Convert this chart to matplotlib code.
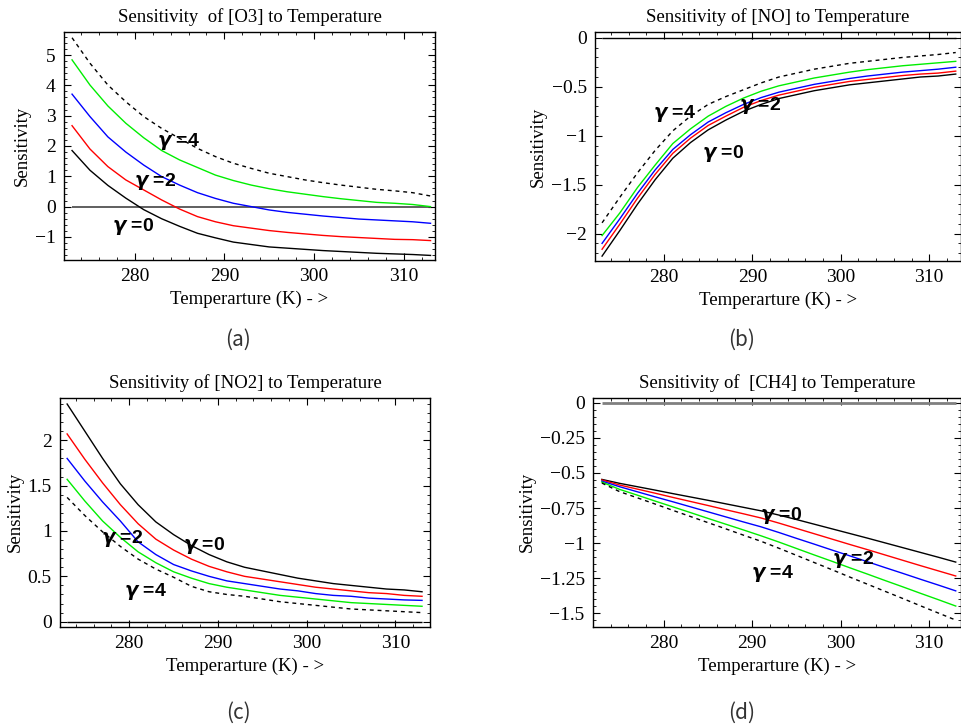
import matplotlib.pyplot as plt
from matplotlib.ticker import MultipleLocator, AutoMinorLocator, FuncFormatter

# temperature grid (K)
temps = list(range(273, 314, 2))

# (a) sensitivity of [O3]
o3_g0 = [1.85, 1.2, 0.7, 0.28, -0.1, -0.4, -0.65, -0.88, -1.03, -1.17, -1.25,
         -1.33, -1.37, -1.41, -1.45, -1.48, -1.51, -1.54, -1.56, -1.58, -1.61]
o3_g1 = [2.67, 1.9, 1.32, 0.88, 0.55, 0.22, -0.08, -0.33, -0.5, -0.63, -0.71,
         -0.79, -0.85, -0.9, -0.95, -0.99, -1.02, -1.05, -1.08, -1.09, -1.12]
o3_g2 = [3.71, 2.97, 2.3, 1.8, 1.37, 0.99, 0.71, 0.46, 0.27, 0.11, 0.0,
         -0.11, -0.19, -0.25, -0.31, -0.36, -0.41, -0.44, -0.47, -0.5, -0.55]
o3_g3 = [4.84, 4.01, 3.32, 2.75, 2.27, 1.85, 1.54, 1.29, 1.04, 0.86, 0.71,
         0.59, 0.49, 0.41, 0.33, 0.26, 0.2, 0.14, 0.11, 0.07, 0.0]
o3_g4 = [5.57, 4.73, 4.01, 3.46, 2.97, 2.58, 2.25, 1.92, 1.65, 1.43, 1.26,
         1.1, 0.99, 0.88, 0.79, 0.71, 0.64, 0.57, 0.52, 0.46, 0.35]

# (b) sensitivity of [NO]
no_g0 = [-2.23, -1.97, -1.7, -1.45, -1.23, -1.07, -0.94, -0.84, -0.75, -0.68, -0.62,
         -0.58, -0.54, -0.51, -0.48, -0.46, -0.44, -0.42, -0.4, -0.39, -0.37]
no_g1 = [-2.16, -1.905, -1.64, -1.395, -1.18, -1.025, -0.895, -0.8, -0.71, -0.64, -0.585,
         -0.545, -0.505, -0.475, -0.445, -0.425, -0.405, -0.385, -0.37, -0.36, -0.34]
no_g2 = [-2.1, -1.85, -1.59, -1.35, -1.14, -0.99, -0.86, -0.765, -0.68, -0.61, -0.555,
         -0.515, -0.475, -0.445, -0.415, -0.39, -0.37, -0.35, -0.335, -0.32, -0.3]
no_g3 = [-2.02, -1.79, -1.53, -1.3, -1.08, -0.93, -0.8, -0.7, -0.615, -0.545, -0.49,
         -0.45, -0.41, -0.38, -0.35, -0.325, -0.305, -0.285, -0.27, -0.255, -0.24]
no_g4 = [-1.89, -1.63, -1.38, -1.15, -0.95, -0.8, -0.68, -0.6, -0.53, -0.46, -0.4,
         -0.36, -0.32, -0.29, -0.26, -0.24, -0.22, -0.2, -0.185, -0.17, -0.15]

# (c) sensitivity of [NO2]
no2_g0 = [2.4, 2.1, 1.8, 1.52, 1.29, 1.1, 0.96, 0.84, 0.74, 0.66, 0.6,
          0.56, 0.52, 0.48, 0.45, 0.42, 0.4, 0.38, 0.36, 0.35, 0.33]
no2_g1 = [2.07, 1.79, 1.53, 1.29, 1.08, 0.91, 0.79, 0.69, 0.61, 0.55, 0.5,
          0.47, 0.44, 0.41, 0.38, 0.36, 0.34, 0.32, 0.31, 0.29, 0.28]
no2_g2 = [1.8, 1.55, 1.32, 1.11, 0.88, 0.74, 0.63, 0.56, 0.5, 0.45, 0.42,
          0.39, 0.36, 0.34, 0.31, 0.29, 0.28, 0.26, 0.25, 0.24, 0.235]
no2_g3 = [1.57, 1.33, 1.11, 0.93, 0.77, 0.65, 0.55, 0.48, 0.42, 0.38, 0.35,
          0.32, 0.29, 0.27, 0.25, 0.23, 0.21, 0.2, 0.19, 0.18, 0.17]
no2_g4 = [1.37, 1.17, 0.99, 0.83, 0.69, 0.58, 0.49, 0.39, 0.33, 0.3, 0.28,
          0.25, 0.22, 0.2, 0.18, 0.16, 0.14, 0.13, 0.12, 0.11, 0.1]

# (d) sensitivity of [CH4]
ch4_g0 = [-0.546, -0.574, -0.598, -0.622, -0.647, -0.671, -0.695, -0.72, -0.745, -0.77, -0.8,
          -0.832, -0.865, -0.898, -0.931, -0.964, -0.998, -1.032, -1.066, -1.1, -1.135]
ch4_g1 = [-0.55, -0.586, -0.615, -0.644, -0.674, -0.703, -0.732, -0.762, -0.791, -0.821, -0.857,
          -0.895, -0.933, -0.971, -1.009, -1.046, -1.084, -1.122, -1.16, -1.197, -1.234]
ch4_g2 = [-0.558, -0.598, -0.634, -0.67, -0.705, -0.741, -0.777, -0.813, -0.849, -0.884, -0.924,
          -0.966, -1.007, -1.049, -1.09, -1.132, -1.174, -1.215, -1.257, -1.298, -1.34]
ch4_g3 = [-0.565, -0.617, -0.658, -0.7, -0.741, -0.782, -0.824, -0.865, -0.906, -0.948, -0.992,
          -1.038, -1.084, -1.129, -1.175, -1.22, -1.266, -1.311, -1.357, -1.402, -1.448]
ch4_g4 = [-0.572, -0.633, -0.677, -0.721, -0.766, -0.81, -0.854, -0.898, -0.943, -0.987, -1.036,
          -1.087, -1.138, -1.189, -1.241, -1.292, -1.343, -1.394, -1.446, -1.497, -1.548]

gamma_texts = ["$\\gamma$ =0", "$\\gamma$ =2", "$\\gamma$ =4"]

# bold italic gamma like the Symbol font one
plt.rcParams["mathtext.fontset"] = "custom"
plt.rcParams["mathtext.it"] = "DejaVu Sans:italic:bold"
plt.rcParams["mathtext.rm"] = "Liberation Sans:bold"

SERIF = "Liberation Serif"
line_colors = ["black", "red", "blue", "#00ee00", "black"]
line_styles = ["-", "-", "-", "-", (0, (2.8, 2.8))]


def minus_fmt(v, pos):
    return f"{v:g}".replace("-", "\u2212")


def draw_panel(ax, series, title, xlim, ylim, ystep, yminor, label_pos, zero_style):
    ax.hlines(0, temps[0], temps[-1], **zero_style)
    for vals, c, ls in zip(series, line_colors, line_styles):
        ax.plot(temps, vals, color=c, ls=ls, lw=1.0)
    for txt, (x, y) in zip(gamma_texts, label_pos):
        ax.text(x, y, txt, ha="center", va="center", fontsize=14,
                fontweight="bold", family="Liberation Sans")

    ax.set_xlim(*xlim)
    ax.set_ylim(*ylim)
    ax.xaxis.set_major_locator(MultipleLocator(10))
    ax.xaxis.set_minor_locator(MultipleLocator(2))
    ax.yaxis.set_major_locator(MultipleLocator(ystep))
    ax.yaxis.set_minor_locator(AutoMinorLocator(yminor))
    ax.yaxis.set_major_formatter(FuncFormatter(minus_fmt))
    ax.tick_params(which="both", direction="in", top=True, right=True,
                   labelsize=14, pad=6)
    ax.tick_params(which="major", length=5, width=0.8)
    ax.tick_params(which="minor", length=2.5, width=0.6)
    for lab in ax.get_xticklabels() + ax.get_yticklabels():
        lab.set_family(SERIF)
    for sp in ax.spines.values():
        sp.set_linewidth(1.0)

    ax.set_title(title, family=SERIF, fontsize=13.5, pad=7)
    ax.set_xlabel("Temperarture (K) - >", family=SERIF, fontsize=13.5, labelpad=4)
    ax.set_ylabel("Sensitivity", family=SERIF, fontsize=13.5, labelpad=3)


fig = plt.figure(figsize=(9.62, 7.27), dpi=100)

ax_a = fig.add_axes([0.0665, 0.6424, 0.3857, 0.3136])
ax_b = fig.add_axes([0.6185, 0.6410, 0.3805, 0.3150])
ax_c = fig.add_axes([0.0624, 0.1380, 0.3846, 0.3150])
ax_d = fig.add_axes([0.6164, 0.1380, 0.3826, 0.3150])

thin_zero = dict(color="black", lw=1.0)

draw_panel(ax_a, [o3_g0, o3_g1, o3_g2, o3_g3, o3_g4],
           "Sensitivity  of [O3] to Temperature",
           (272.1, 313.5), (-1.76, 5.76), 1, 5,
           [(279.8, -0.64), (282.3, 0.82), (284.9, 2.14)],
           dict(color="#444444", lw=1.2))
draw_panel(ax_b, [no_g0, no_g1, no_g2, no_g3, no_g4],
           "Sensitivity of [NO] to Temperature",
           (272.2, 313.6), (-2.28, 0.06), 0.5, 5,
           [(286.7, -1.18), (290.85, -0.69), (281.2, -0.773)],
           thin_zero)
draw_panel(ax_c, [no2_g0, no2_g1, no2_g2, no2_g3, no2_g4],
           "Sensitivity of [NO2] to Temperature",
           (272.2, 313.9), (-0.055, 2.47), 0.5, 5,
           [(288.4, 0.837), (279.2, 0.917), (281.8, 0.338)],
           thin_zero)
draw_panel(ax_d, [ch4_g0, ch4_g1, ch4_g2, ch4_g3, ch4_g4],
           "Sensitivity of  [CH4] to Temperature",
           (272.0, 313.6), (-1.595, 0.036), 0.25, 5,
           [(293.3, -0.80), (301.4, -1.12), (292.3, -1.215)],
           dict(color="#808080", lw=2.0))

caption_font = dict(family=["Noto Sans CJK SC", "DejaVu Sans"], fontsize=15,
                    fontweight="light", color="#333333", ha="center", va="center")
fig.text(238 / 962, 1 - 340 / 727, "(a)", **caption_font)
fig.text(742 / 962, 1 - 340 / 727, "(b)", **caption_font)
fig.text(238 / 962, 1 - 713 / 727, "(c)", **caption_font)
fig.text(742 / 962, 1 - 713 / 727, "(d)", **caption_font)

fig.savefig("out.png", dpi=100)
